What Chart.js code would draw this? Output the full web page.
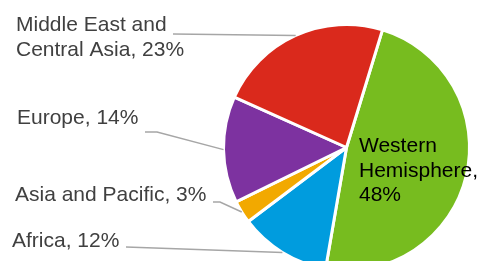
<!DOCTYPE html>
<html>
<head>
<meta charset="utf-8">
<script src="https://cdn.jsdelivr.net/npm/chart.js@4.4.1/dist/chart.umd.min.js"></script>
<style>
  html, body { margin: 0; padding: 0; background: #fff; overflow: hidden; }
  #grafico { display: block; }
</style>
</head>
<body>
<canvas id="grafico" width="478" height="280"></canvas>
<script>
        var regioes = ['Western Hemisphere', 'Africa', 'Asia and Pacific', 'Europe', 'Middle East and Central Asia'];
        var percentuais = [48, 12, 3, 14, 23];
        var cores = ['#77BC1F', '#009CDE', '#F2A900', '#7D32A0', '#DA291C'];

        // rotulos: linhas de texto, onde fica o texto e de onde sai a linha guia
        var rotulos = [
            { linhas: ['Western', 'Hemisphere,', '48%'], x: 359, y: 152, cor: '#000000', guia: null },
            { linhas: ['Africa, 12%'], x: 12, y: 247, cor: '#404040', guia: [[126, 247]] },
            { linhas: ['Asia and Pacific, 3%'], x: 15, y: 201, cor: '#404040', guia: [[213, 202], [220, 202]] },
            { linhas: ['Europe, 14%'], x: 17, y: 124, cor: '#404040', guia: [[145, 132], [157, 132]] },
            { linhas: ['Middle East and', 'Central Asia, 23%'], x: 16, y: 31, cor: '#404040', guia: [[173, 34]] }
        ];

        var pluginRotulos = {
            id: 'rotulos',
            afterDatasetsDraw: function (chart) {
                var ctx = chart.ctx;
                var arcos = chart.getDatasetMeta(0).data;
                ctx.save();
                arcos.forEach(function (arco, i) {
                    var r = rotulos[i];
                    var p = arco.getProps(['x', 'y', 'startAngle', 'endAngle', 'outerRadius'], true);
                    if (r.guia) {
                        var meio = (p.startAngle + p.endAngle) / 2;
                        var fimX = p.x + Math.cos(meio) * p.outerRadius;
                        var fimY = p.y + Math.sin(meio) * p.outerRadius;
                        ctx.beginPath();
                        ctx.strokeStyle = '#A6A6A6';
                        ctx.lineWidth = 1.5;
                        ctx.moveTo(r.guia[0][0], r.guia[0][1]);
                        for (var k = 1; k < r.guia.length; k++) {
                            ctx.lineTo(r.guia[k][0], r.guia[k][1]);
                        }
                        ctx.lineTo(fimX, fimY);
                        ctx.stroke();
                    }
                    ctx.fillStyle = r.cor;
                    ctx.font = '21px "Liberation Sans", Arial, sans-serif';
                    ctx.textAlign = 'left';
                    ctx.textBaseline = 'alphabetic';
                    r.linhas.forEach(function (linha, j) {
                        ctx.fillText(linha, r.x, r.y + j * 24.5);
                    });
                });
                ctx.restore();
            }
        };

        var grafico = new Chart(document.getElementById('grafico'), {
            type: 'pie',
            data: {
                labels: regioes,
                datasets: [{
                    data: percentuais,
                    backgroundColor: cores,
                    borderColor: '#ffffff',
                    borderWidth: 3
                }]
            },
            options: {
                responsive: false,
                animation: false,
                rotation: 17,
                layout: {
                    padding: { left: 222, right: 7, top: 23, bottom: 8 }
                },
                plugins: {
                    legend: { display: false },
                    tooltip: { enabled: false }
                }
            },
            plugins: [pluginRotulos]
        });
</script>
</body>
</html>
